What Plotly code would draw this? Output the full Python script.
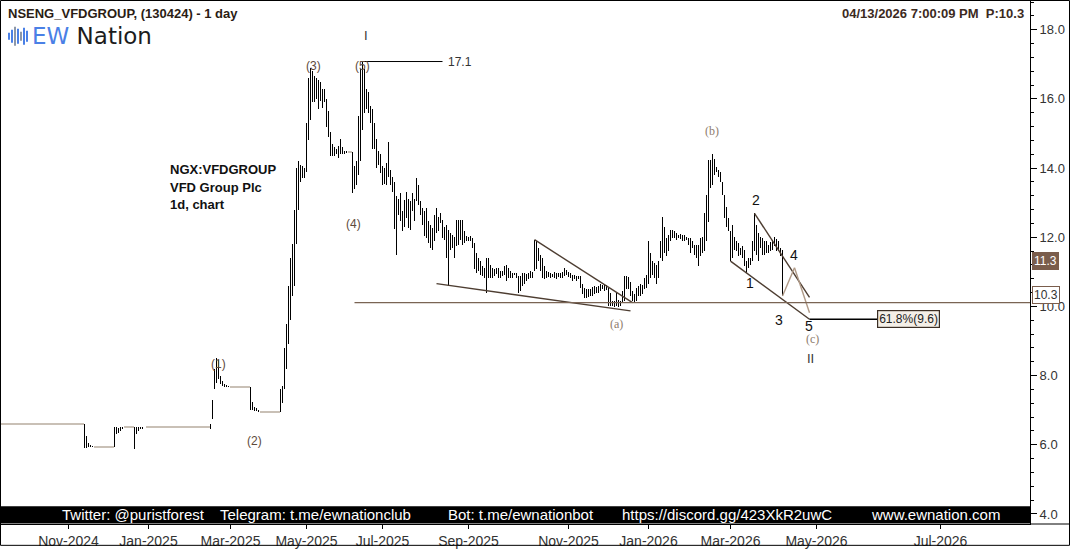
import plotly.graph_objects as go

# ---- daily bars, (high, low) per session ----
flat_nov = [(6.6, 6.6)] * 45
dip_dec = [(6.6, 5.9), (6.25, 5.92), (6.05, 5.93), (5.98, 5.93), (5.96, 5.93)]
flat_dec = [(5.93, 5.93)] * 10
pop_dec = [(6.5, 5.93), (6.5, 6.3), (6.48, 6.35), (6.52, 6.4), (6.52, 6.45)]
flat_dec2 = [(6.52, 6.52)] * 5
pop_dec2 = [(6.52, 5.87), (6.52, 6.3), (6.5, 6.4), (6.52, 6.45), (6.52, 6.47), (6.52, 6.5)]
flat_jan = [(6.52, 6.52)] * 32
wave1 = [(6.6, 6.45), (7.3, 6.75), (8.2, 7.6), (8.5, 7.8), (8.45, 7.9), (8.0, 7.75),
         (7.85, 7.7), (7.75, 7.68), (7.72, 7.67), (7.7, 7.67)]
flat_feb = [(7.67, 7.67)] * 10
wave2 = [(7.67, 7.0), (7.25, 7.0), (7.1, 6.98), (7.05, 6.97), (7.0, 6.96)]
flat_mar = [(6.96, 6.96)] * 10
wave3 = [(7.6, 6.96), (7.7, 7.2), (8.8, 7.6), (9.5, 8.2), (10.6, 8.9), (11.4, 9.6),
         (11.8, 10.3), (12.8, 10.6), (14.0, 11.8), (14.2, 12.8), (14.1, 13.6), (14.05, 13.7),
         (14.0, 13.7), (15.3, 13.9), (16.6, 14.8), (16.9, 15.4), (16.8, 15.9), (16.65, 15.9),
         (16.6, 16.0), (16.55, 15.7), (16.5, 15.95), (16.3, 15.75), (16.3, 15.9), (16.0, 15.2),
         (15.65, 14.9), (15.05, 14.35), (14.7, 14.35), (14.6, 14.35), (14.55, 14.4),
         (14.65, 14.3), (14.85, 14.4), (14.6, 14.4), (14.5, 14.42), (14.48, 14.45)]
flat_may = [(14.47, 14.47)] * 2
wave5 = [(14.47, 13.27), (14.05, 13.4), (14.2, 13.5), (15.5, 13.8), (16.85, 14.2), (17.1, 15.1),
         (16.85, 15.6), (16.3, 15.7), (16.2, 15.6), (15.8, 15.3), (15.7, 14.55), (15.3, 14.55),
         (14.85, 14.0), (14.5, 14.1), (14.4, 13.85), (14.05, 13.5), (14.0, 13.55), (14.15, 13.5),
         (14.75, 13.75), (13.95, 13.5), (13.75, 13.3), (13.6, 12.25), (13.2, 11.5)]
fall_jul = [(13.12, 12.64), (13.27, 12.46), (12.75, 12.18), (13.07, 12.31), (13.32, 12.55),
            (13.12, 12.26), (13.04, 12.21), (13.27, 12.75), (13.12, 12.46), (13.7, 13.04),
            (13.5, 12.93), (13.04, 12.64), (12.84, 12.36), (12.75, 12.03), (12.84, 11.98),
            (12.46, 11.83), (12.36, 11.69), (12.26, 11.64), (12.64, 11.88), (12.84, 12.12),
            (12.6, 12.18), (12.7, 12.4), (12.5, 11.98), (12.31, 11.93), (12.36, 11.4), (12.21, 10.6)]
drift_aug = [(12.12, 11.64), (12.07, 11.69), (12.02, 11.4), (12.5, 11.74), (12.5, 11.79),
             (12.5, 11.93), (12.5, 11.79), (12.17, 11.83), (12.03, 11.88), (12.0, 11.88),
             (12.03, 11.9), (11.98, 11.69), (11.83, 11.07), (11.55, 10.97), (11.4, 11.02),
             (11.31, 10.92), (11.17, 10.88), (11.12, 10.83), (11.4, 10.4)]
range_sep = [(11.4, 10.83), (11.21, 10.83), (11.12, 10.83), (11.07, 10.88), (11.12, 10.93),
             (11.12, 10.83), (11.02, 10.83), (11.02, 10.88), (11.17, 10.92), (11.21, 10.73),
             (11.12, 10.83), (11.02, 10.83), (10.97, 10.83), (10.97, 10.9), (10.97, 10.83),
             (10.88, 10.4)]
range_oct = [(10.88, 10.45), (10.97, 10.6), (10.97, 10.64), (10.93, 10.73), (10.97, 10.78),
             (11.02, 10.83), (11.0, 10.83), (11.93, 11.02)]
slide_nov = [(11.88, 11.07), (11.69, 11.31), (11.5, 11.02), (11.4, 10.83), (11.17, 10.78),
             (11.02, 10.83), (11.0, 10.85), (10.97, 10.83), (10.95, 10.86), (11.0, 10.83),
             (10.97, 10.8), (10.97, 10.86), (10.97, 10.83), (11.0, 10.83), (11.12, 10.88),
             (11.05, 10.9), (11.0, 10.86), (10.97, 10.83), (10.92, 10.73), (10.92, 10.78),
             (10.88, 10.73), (10.88, 10.78), (10.88, 10.54), (10.64, 10.35)]
base_dec = [(10.54, 10.25), (10.5, 10.25), (10.5, 10.28), (10.5, 10.3), (10.55, 10.3),
            (10.59, 10.35), (10.55, 10.4), (10.6, 10.4), (10.64, 10.45), (10.62, 10.5),
            (10.64, 10.45), (10.62, 10.48), (10.54, 10.02), (10.4, 10.02), (10.16, 10.02),
            (10.16, 9.97), (10.4, 10.02), (10.2, 9.97), (10.15, 10.02), (10.45, 10.11),
            (10.88, 10.16), (10.88, 10.5), (10.85, 10.5), (10.7, 10.3), (10.45, 10.16),
            (10.35, 10.11)]
rally_jan = [(10.54, 10.16), (10.6, 10.3), (10.64, 10.3), (10.62, 10.35), (10.83, 10.5),
             (10.92, 10.54), (11.88, 10.64), (11.55, 10.83), (11.31, 10.92), (11.26, 10.83),
             (11.21, 10.64), (11.31, 10.83), (11.88, 11.4), (12.6, 11.31), (12.31, 11.55),
             (11.98, 11.45), (12.07, 11.59), (12.21, 11.88), (12.21, 11.98), (12.17, 11.98),
             (12.12, 11.93), (12.07, 11.98), (12.1, 11.95), (12.07, 11.9), (12.07, 11.88),
             (12.02, 11.93), (11.98, 11.78), (11.98, 11.55), (11.88, 11.69), (11.78, 11.5),
             (11.78, 11.4), (11.78, 11.16), (11.98, 11.45), (12.02, 11.55), (12.69, 11.59),
             (13.22, 11.88), (14.22, 12.45), (14.22, 13.41), (14.41, 13.5), (14.27, 13.79),
             (14.03, 13.89), (13.94, 13.75), (13.89, 13.6), (13.6, 13.22), (13.22, 12.55),
             (12.88, 12.31), (12.55, 12.17), (12.17, 11.31)]
wave_c = [(12.36, 11.4), (12.02, 11.62), (11.88, 11.59), (11.83, 11.45), (11.69, 11.5),
          (11.74, 11.4), (11.64, 11.16), (11.31, 10.97), (11.4, 11.12), (11.4, 11.21),
          (11.88, 11.31), (12.69, 11.59), (12.36, 11.5), (12.12, 11.31), (12.02, 11.69),
          (11.98, 11.5), (11.88, 11.5), (11.9, 11.55), (11.78, 11.55), (11.85, 11.6),
          (11.93, 11.64), (12.02, 11.74), (11.95, 11.6), (11.88, 11.59), (11.69, 11.45),
          (11.64, 10.3)]

bars = (flat_nov + dip_dec + flat_dec + pop_dec + flat_dec2 + pop_dec2 + flat_jan + wave1
        + flat_feb + wave2 + flat_mar + wave3 + flat_may + wave5 + fall_jul + drift_aug
        + range_sep + range_oct + slide_nov + base_dec + rally_jan + wave_c)

# month labels and the session index where each month starts
month_labels = ["Nov-2024", "Jan-2025", "Mar-2025", "May-2025", "Jul-2025", "Sep-2025",
                "Nov-2025", "Jan-2026", "Mar-2026", "May-2026", "Jul-2026"]
month_index = [37, 77, 118, 156, 194, 237, 287, 327, 368, 411, 473]
price_ticks = [4, 6, 8, 10, 12, 14, 16, 18]

# ---- analyst drawings: (x0, y0, x1, y1) in session index / price ----
wedge_lines = [(221, 10.66, 318, 9.87), (270, 11.93, 319, 10.11),
               (368, 11.31, 407.5, 9.63), (380, 12.69, 407.5, 10.26)]
path_lines = [(394, 10.3, 400, 11.12), (400, 11.12, 407.5, 9.82)]
support_level = 10.11
high_level = 17.1
fib_level = 9.63

W, H = 1070, 550
ML, MR, MT, MB = 1, 40, 1, 22
PW, PH = W - ML - MR, H - MT - MB


def px(x):
    return (x - ML) / PW


def py(y):
    return (H - MB - y) / PH


xs, ys, fx, fy = [], [], [], []
for i, (hi, lo) in enumerate(bars):
    if hi == lo:
        fx += [i - 0.5, i + 0.5, None]
        fy += [hi, hi, None]
    else:
        xs += [i, i, None]
        ys += [lo, hi, None]

fig = go.Figure()
fig.add_trace(go.Scatter(x=fx, y=fy, mode="lines", line=dict(color="#c9c0b6", width=2),
                         hoverinfo="skip", showlegend=False))
fig.add_trace(go.Scatter(x=xs, y=ys, mode="lines", line=dict(color="#000000", width=1),
                         hoverinfo="skip", showlegend=False))

DARK = "#4d3d31"
TAN = "#b09a87"
shapes = []
for x0, y0, x1, y1 in wedge_lines:
    shapes.append(dict(type="line", xref="x", yref="y", x0=x0, y0=y0, x1=x1, y1=y1,
                       line=dict(color=DARK, width=1.4)))
for x0, y0, x1, y1 in path_lines:
    shapes.append(dict(type="line", xref="x", yref="y", x0=x0, y0=y0, x1=x1, y1=y1,
                       line=dict(color=TAN, width=1.4)))
peak_i = max(range(len(bars)), key=lambda k: bars[k][0])
shapes += [
    dict(type="line", xref="x", yref="y", x0=180, x1=518, y0=support_level, y1=support_level,
         line=dict(color="#7a6454", width=1.4)),
    dict(type="line", xref="x", yref="y", x0=peak_i, x1=peak_i + 40, y0=high_level - 0.02,
         y1=high_level - 0.02, line=dict(color="#000", width=1)),
    dict(type="line", xref="x", yref="y", x0=407.5, x1=441.5, y0=fib_level, y1=fib_level,
         line=dict(color="#000", width=1.4)),
    # footer band
    dict(type="rect", xref="paper", yref="paper", x0=px(1), x1=px(1030), y0=py(527), y1=py(510),
         fillcolor="#000", line=dict(width=0), layer="above"),
    # x axis line across the whole width and outer frame
    dict(type="line", xref="paper", yref="paper", x0=px(0), x1=px(1070), y0=py(528), y1=py(528),
         line=dict(color="#000", width=1)),
    dict(type="rect", xref="paper", yref="paper", x0=px(0.5), x1=px(1069.5), y0=py(549.5),
         y1=py(0.5), line=dict(color="#000", width=1)),
]
# logo waveform
logo_bars = [(9, 33, 40, "#4a80e6"), (12, 30, 43, "#4a80e6"), (15, 27, 46, "#8d97a8"),
             (18, 29, 44, "#4a80e6"), (21, 32, 41, "#8d97a8"), (24, 28, 45, "#4a80e6"),
             (27, 31, 42, "#4a80e6")]
for x, y0, y1, c in logo_bars:
    shapes.append(dict(type="line", xref="paper", yref="paper", x0=px(x), x1=px(x),
                       y0=py(y1), y1=py(y0), line=dict(color=c, width=2)))

SANS = "Liberation Sans, Arial, sans-serif"
NARROW = "Liberation Sans Narrow, Arial Narrow, Liberation Sans, sans-serif"
SERIF = "Liberation Serif, Times New Roman, serif"
BROWN = "#5e4a3b"
LIGHT = "#8e7c6d"

ann = []


def label(text, x, y, color, size=12, family=SANS):
    ann.append(dict(text=text, x=x, y=y, xref="x", yref="y", showarrow=False,
                    font=dict(color=color, size=size, family=family)))


label("I", 185.75, 17.83, "#333333", 13)
label("(3)", 159.25, 16.94, BROWN)
label("(5)", 183.75, 16.94, BROWN)
label("(4)", 179.25, 12.38, BROWN)
label("(1)", 111.75, 8.33, BROWN)
label("(2)", 129.75, 6.12, BROWN)
label("17.1", 232.75, 17.08, "#333333")
label("(a)", 310.75, 9.48, LIGHT, 12, SERIF)
label("(b)", 358.5, 15.07, LIGHT, 12, SERIF)
label("(c)", 408.75, 9.05, LIGHT, 12, SERIF)
label("II", 407.75, 8.5, "#333333", 13)
label("1", 377.75, 10.69, "#111111", 14)
label("2", 380.75, 13.09, "#111111", 14)
label("3", 392.25, 9.6, "#111111", 14)
label("4", 399.75, 11.49, "#111111", 14)
label("5", 407.25, 9.42, "#111111", 14)
ann.append(dict(text="61.8%(9.6)", x=457, y=fib_level, xref="x", yref="y", showarrow=False,
                bgcolor="#f4efe7", bordercolor="#3b2e24", borderwidth=1.2, borderpad=1,
                font=dict(color="#222", size=12, family=SANS)))


def paper_text(text, x, y, size, color, family=SANS, anchor="left", bg=None, border=None):
    d = dict(text=text, x=px(x), y=py(y), xref="paper", yref="paper", showarrow=False,
             xanchor=anchor, yanchor="middle", font=dict(size=size, color=color, family=family))
    if bg:
        d.update(bgcolor=bg, borderpad=1)
    if border:
        d.update(bordercolor=border, borderwidth=1)
    ann.append(d)


paper_text("<b>NSENG_VFDGROUP, (130424) - 1 day</b>", 6, 14, 13, "#2b1d14")
paper_text("<span style='color:#4a80e6'>EW</span> Nation", 30, 36, 23, "#1c1c1c",
           family="DejaVu Sans, sans-serif")
paper_text("<b>04/13/2026 7:00:09 PM&nbsp;&nbsp;P:10.3</b>", 1026, 14, 13, "#3c2a1e", anchor="right")
paper_text("<b>NGX:VFDGROUP</b>", 168, 171, 13, "#111111")
paper_text("<b>VFD Group Plc</b>", 168, 189, 13, "#111111")
paper_text("<b>1d, chart</b>", 168, 206, 13, "#111111")
paper_text("11.3", 1032, 263, 12, "#ffffff", bg="#7a5d4c", border="#7a5d4c")
paper_text("10.3", 1032, 297, 12, "#333333", bg="#ffffff", border="#7a5d4c")
for text, cx in [("Twitter: @puristforest", 133), ("Telegram: t.me/ewnationclub", 315),
                 ("Bot: t.me/ewnationbot", 521), ("https://discord.gg/423XkR2uwC", 727),
                 ("www.ewnation.com", 935)]:
    paper_text(text, cx, 518.5, 15, "#ffffff", family=NARROW, anchor="center")

fig.update_layout(
    width=W, height=H, margin=dict(l=ML, r=MR, t=MT, b=MB, pad=0),
    paper_bgcolor="white", plot_bgcolor="white", showlegend=False,
    shapes=shapes, annotations=ann, hovermode=False,
    xaxis=dict(range=[3.25, 3.25 + PW / 2], tickvals=month_index, ticktext=month_labels,
               showgrid=False, zeroline=False, showline=True, linecolor="#000", linewidth=1,
               ticks="outside", ticklen=4, tickcolor="#000",
               tickfont=dict(family=NARROW, size=14, color="#333")),
    yaxis=dict(range=[3.71, 18.83], side="right", tickvals=price_ticks,
               ticktext=[f"{v:.1f}" for v in price_ticks], showgrid=False, zeroline=False,
               showline=True, linecolor="#000", linewidth=1, ticks="outside", ticklen=6,
               tickcolor="#000", tickfont=dict(family=SANS, size=13, color="#333"),
               minor=dict(dtick=0.4, tick0=4, ticks="outside", ticklen=3, tickcolor="#000")),
)

fig.write_html(
    "out.html", config={"displayModeBar": False, "staticPlot": True},
    post_script=("document.body.style.margin='0';document.body.style.overflow='hidden';"
                 "document.querySelectorAll('.scatterlayer path.js-line')"
                 ".forEach(function(p){p.style.shapeRendering='crispEdges';});"))
